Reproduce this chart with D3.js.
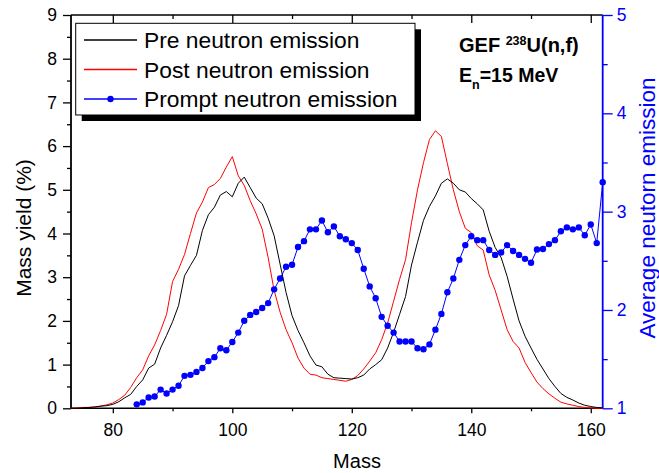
<!DOCTYPE html>
<html>
<head>
<meta charset="utf-8">
<script src="https://cdn.jsdelivr.net/npm/d3@7"></script>
<style>
  body { margin: 0; background: #fff; }
  svg { display: block; font-family: "Liberation Sans", Arial, sans-serif; }
</style>
</head>
<body>
<svg id="chart" width="659" height="473"></svg>
<script>
// Fragment mass numbers for the yield curves (73 .. 162)
const yieldMass = d3.range(73, 163);

// Pre-neutron-emission mass yield (%)
const preYield = [
  0, 0, 0.01, 0.02, 0.03, 0.05, 0.06, 0.09, 0.15, 0.24,
  0.32, 0.5, 0.65, 0.92, 1.01, 1.38, 1.67, 1.98, 2.35, 3.03,
  3.27, 3.5, 4.07, 4.43, 4.6, 4.88, 4.96, 4.84, 5.15, 5.29,
  5.05, 4.81, 4.68, 4.35, 3.95, 3.3, 2.65, 2.12, 1.78, 1.5,
  1.2, 0.99, 0.95, 0.78, 0.7, 0.69, 0.68, 0.67, 0.7, 0.76,
  0.9, 1.0, 1.11, 1.38, 1.74, 2.15, 2.56, 3.28, 3.8, 4.3,
  4.62, 4.86, 5.15, 5.25, 5.15, 5.0, 4.95, 4.8, 4.68, 4.54,
  4.05, 3.68, 3.45, 3.02, 2.5, 2.0, 1.65, 1.38, 1.12, 0.9,
  0.68, 0.5, 0.34, 0.25, 0.19, 0.12, 0.07, 0.04, 0.02, 0.01
];

// Post-neutron-emission mass yield (%)
const postYield = [
  0, 0.01, 0.02, 0.02, 0.03, 0.05, 0.08, 0.12, 0.2, 0.3,
  0.48, 0.7, 0.88, 1.2, 1.45, 1.78, 2.15, 2.9, 3.18, 3.52,
  4.0, 4.47, 4.72, 5.05, 5.12, 5.26, 5.52, 5.76, 5.32, 5.1,
  4.75, 4.45, 4.1, 3.45, 2.7, 2.2, 1.8, 1.5, 1.15, 0.92,
  0.78, 0.76, 0.7, 0.68, 0.66, 0.64, 0.62, 0.66, 0.75, 0.9,
  1.08, 1.27, 1.57, 1.95, 2.45, 2.95, 3.4, 4.25, 5.0, 5.62,
  6.15, 6.35, 6.22, 5.6, 5.0, 4.5, 4.12, 4.02, 3.72, 3.62,
  3.05, 2.7, 2.25, 1.8, 1.53, 1.38, 1.05, 0.82, 0.6, 0.45,
  0.33, 0.23, 0.14, 0.1, 0.07, 0.04, 0.02, 0.01, 0, 0
];

// Average prompt neutron multiplicity vs. mass (84 .. 162)
const promptMass = d3.range(84, 163);
const promptNu = [
  1.04, 1.06, 1.11, 1.12, 1.19, 1.15, 1.19, 1.23, 1.33, 1.34,
  1.37, 1.41, 1.48, 1.52, 1.61, 1.59, 1.675, 1.77, 1.89, 1.95,
  1.98, 2.02, 2.07, 2.21, 2.32, 2.44, 2.46, 2.64, 2.70, 2.82,
  2.82, 2.91, 2.79, 2.85, 2.75, 2.72, 2.68, 2.61, 2.42, 2.24,
  2.12, 1.93, 1.84, 1.77, 1.68, 1.68, 1.68, 1.61, 1.60, 1.65,
  1.80, 1.96, 2.18, 2.32, 2.51, 2.66, 2.75, 2.71, 2.71, 2.61,
  2.56, 2.585, 2.66, 2.60, 2.56, 2.52, 2.48, 2.615, 2.62, 2.67,
  2.71, 2.80, 2.84, 2.82, 2.84, 2.76, 2.87, 2.68, 3.30
];

// Axis ticks
const xMajor = [80, 100, 120, 140, 160];
const xMinor = [90, 110, 130, 150];
const yMajor = d3.range(0, 10);
const yMinor = d3.range(0.5, 9, 1);
const nuMajor = [1, 2, 3, 4, 5];
const nuMinor = [1.5, 2.5, 3.5, 4.5];

const legendLabels = ["Pre neutron emission", "Post neutron emission", "Prompt neutron emission"];

const svg = d3.select("#chart");
const plot = { left: 71, right: 602.7, top: 15, bottom: 408.3 };
const BLUE = "#0000ff";
const RED = "#ff0000";

const x = d3.scaleLinear().domain([73, 162]).range([plot.left, plot.right]);
const y = d3.scaleLinear().domain([0, 9]).range([plot.bottom, plot.top]);
const yNu = d3.scaleLinear().domain([1, 5]).range([plot.bottom, plot.top]);

svg.append("defs").append("clipPath").attr("id", "plotClip")
  .append("rect")
  .attr("x", plot.left).attr("y", plot.top - 4)
  .attr("width", plot.right - plot.left + 4).attr("height", plot.bottom - plot.top + 8);

// Axis helpers
function styleAxis(g, color) {
  g.select(".domain").remove();
  g.selectAll("line").attr("stroke", color).attr("stroke-width", 1.3);
  g.selectAll("text").attr("fill", color).attr("font-size", 17.5)
    .attr("font-family", "'Liberation Sans', Arial, sans-serif");
}

// Bottom axis
svg.append("g").attr("transform", `translate(0,${plot.bottom})`)
  .call(d3.axisBottom(x).tickValues(xMajor).tickSize(5).tickPadding(6).tickFormat(d3.format("d")))
  .call(g => styleAxis(g, "#000"))
  .call(g => g.selectAll("text").attr("dy", "0.95em"));
svg.append("g").attr("transform", `translate(0,${plot.bottom})`)
  .call(d3.axisBottom(x).tickValues(xMinor).tickSize(3).tickFormat(""))
  .call(g => styleAxis(g, "#000"));

// Top axis (inward ticks, no labels)
svg.append("g").attr("transform", `translate(0,${plot.top})`)
  .call(d3.axisBottom(x).tickValues(xMajor).tickSize(8).tickFormat(""))
  .call(g => styleAxis(g, "#000"));
svg.append("g").attr("transform", `translate(0,${plot.top})`)
  .call(d3.axisBottom(x).tickValues(xMinor).tickSize(4).tickFormat(""))
  .call(g => styleAxis(g, "#000"));

// Left axis
svg.append("g").attr("transform", `translate(${plot.left},0)`)
  .call(d3.axisLeft(y).tickValues(yMajor).tickSize(8).tickPadding(6).tickFormat(d3.format("d")))
  .call(g => styleAxis(g, "#000"));
svg.append("g").attr("transform", `translate(${plot.left},0)`)
  .call(d3.axisLeft(y).tickValues(yMinor).tickSize(4).tickFormat(""))
  .call(g => styleAxis(g, "#000"));

// Right axis (blue)
svg.append("g").attr("transform", `translate(${plot.right},0)`)
  .call(d3.axisRight(yNu).tickValues(nuMajor).tickSize(10).tickPadding(4).tickFormat(d3.format("d")))
  .call(g => styleAxis(g, BLUE));
svg.append("g").attr("transform", `translate(${plot.right},0)`)
  .call(d3.axisRight(yNu).tickValues(nuMinor).tickSize(5).tickFormat(""))
  .call(g => styleAxis(g, BLUE));

// Frame
svg.append("line").attr("x1", plot.left).attr("x2", plot.right)
  .attr("y1", plot.top).attr("y2", plot.top).attr("stroke", "#000").attr("stroke-width", 1.6);
svg.append("line").attr("x1", plot.left).attr("x2", plot.right)
  .attr("y1", plot.bottom).attr("y2", plot.bottom).attr("stroke", "#000").attr("stroke-width", 1.6);
svg.append("line").attr("x1", plot.left).attr("x2", plot.left)
  .attr("y1", plot.top).attr("y2", plot.bottom).attr("stroke", "#000").attr("stroke-width", 1.8);
svg.append("line").attr("x1", plot.right).attr("x2", plot.right)
  .attr("y1", plot.top).attr("y2", plot.bottom).attr("stroke", BLUE).attr("stroke-width", 1.8);

// Axis titles
svg.append("text").attr("x", 357).attr("y", 468).attr("text-anchor", "middle")
  .attr("font-size", 20).text("Mass");
svg.append("text").attr("transform", "translate(31,228) rotate(-90)")
  .attr("text-anchor", "middle").attr("font-size", 21).text("Mass yield (%)");
svg.append("text").attr("transform", "translate(655,208) rotate(-90)")
  .attr("text-anchor", "middle").attr("font-size", 22.5).attr("fill", BLUE)
  .text("Average neutorn emission");

// Curves
const marks = svg.append("g").attr("clip-path", "url(#plotClip)");
const yieldLine = d3.line().x((d, i) => x(yieldMass[i])).y(d => y(d));
marks.append("path").datum(postYield).attr("d", yieldLine)
  .attr("fill", "none").attr("stroke", RED).attr("stroke-width", 1);
marks.append("path").datum(preYield).attr("d", yieldLine)
  .attr("fill", "none").attr("stroke", "#000").attr("stroke-width", 1);

const nuLine = d3.line().x((d, i) => x(promptMass[i])).y(d => yNu(d));
marks.append("path").datum(promptNu).attr("d", nuLine)
  .attr("fill", "none").attr("stroke", BLUE).attr("stroke-width", 1);
marks.selectAll("circle.nu").data(promptNu).join("circle")
  .attr("class", "nu")
  .attr("cx", (d, i) => x(promptMass[i])).attr("cy", d => yNu(d))
  .attr("r", 3.2).attr("fill", BLUE);

// Legend with drop shadow
const lg = svg.append("g");
lg.append("rect").attr("x", 81.7).attr("y", 29.3).attr("width", 339.3).attr("height", 91.7).attr("fill", "#000");
lg.append("rect").attr("x", 75.7).attr("y", 23.3).attr("width", 339.3).attr("height", 91.7)
  .attr("fill", "#fff").attr("stroke", "#000").attr("stroke-width", 1);
const legendColors = ["#000", RED, BLUE];
const rowY = [40, 69.5, 99];
legendLabels.forEach((label, i) => {
  lg.append("path")
    .attr("d", `M84,${rowY[i]}H137`)
    .style("stroke", legendColors[i]).style("stroke-width", 1.4).style("fill", "none");
  if (i === 2) {
    lg.append("circle").attr("cx", 110.5).attr("cy", rowY[i]).attr("r", 3.2).style("fill", BLUE);
  }
  lg.append("text").attr("x", 144).attr("y", rowY[i] + 8).attr("font-size", 22.8).text(label);
});

// Reaction annotation
const ann = svg.append("g").attr("font-weight", "bold");
const t1 = ann.append("text").attr("x", 459).attr("y", 52).attr("font-size", 20);
t1.append("tspan").text("GEF ");
t1.append("tspan").attr("font-size", 12.5).attr("dy", -7.5).text("238");
t1.append("tspan").attr("dy", 7.5).text("U(n,f)");
const t2 = ann.append("text").attr("x", 459).attr("y", 82).attr("font-size", 19.5);
t2.append("tspan").text("E");
t2.append("tspan").attr("font-size", 12.5).attr("dy", 7).text("n");
t2.append("tspan").attr("dy", -7).text("=15 MeV");
</script>
</body>
</html>
